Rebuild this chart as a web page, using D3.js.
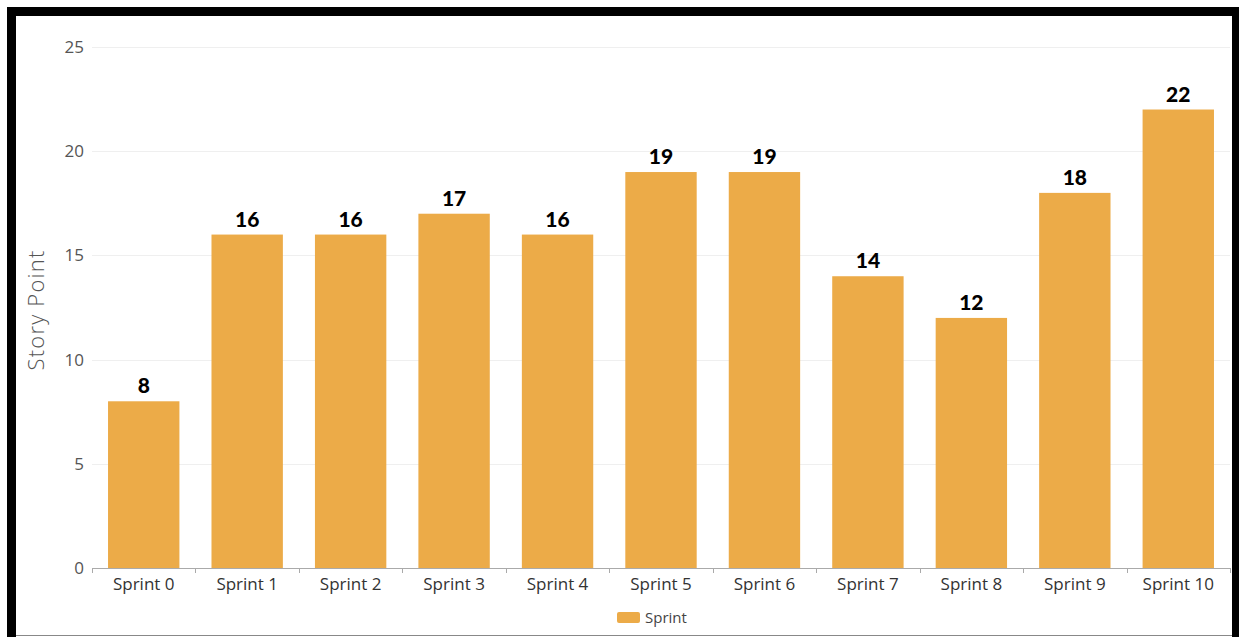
<!DOCTYPE html>
<html><head><meta charset="utf-8">
<script src="https://cdn.jsdelivr.net/npm/d3@7"></script>
<style>body{margin:0;background:#fff;}svg{display:block;}</style>
</head><body>
<svg id="c" width="1239" height="637"></svg>
<script>
const categories = ["Sprint 0","Sprint 1","Sprint 2","Sprint 3","Sprint 4","Sprint 5","Sprint 6","Sprint 7","Sprint 8","Sprint 9","Sprint 10"];
const values = [8,16,16,17,16,19,19,14,12,18,22];
const yTicks = [0,5,10,15,20,25];
const seriesName = "Sprint";
const yTitle = "Story Point";

(function(){
const svg = d3.select("#c");
const color = "#ECAB48";
const mLeft = 92, mRight = 1230, mTop = 47, mBottom = 568;

const x = d3.scaleBand().domain(categories).range([mLeft, mRight]).paddingInner(0.31).paddingOuter(0.155);
const y = d3.scaleLinear().domain([0, 25]).range([mBottom, mTop]);

svg.append("rect").attr("x",0).attr("y",0).attr("width",1239).attr("height",637).attr("fill","#fff");
svg.append("line").attr("x1",16).attr("x2",1232).attr("y1",635.5).attr("y2",635.5).attr("stroke","#888").attr("stroke-width",1);

// grid
svg.append("g").selectAll("line").data(yTicks.filter(d=>d>0)).join("line")
  .attr("x1", mLeft).attr("x2", mRight)
  .attr("y1", d=>Math.round(y(d))+0.5).attr("y2", d=>Math.round(y(d))+0.5)
  .attr("stroke","#efefef").attr("stroke-width",1);

// y labels
svg.append("g").selectAll("text").data(yTicks).join("text")
  .attr("x", 84).attr("y", d=>y(d)+6)
  .attr("text-anchor","end")
  .attr("font-family","'Open Sans', sans-serif").attr("font-size",17)
  .attr("fill","#555").text(d=>d);

// bars
svg.append("g").selectAll("rect").data(values).join("rect")
  .attr("x",(d,i)=>x(categories[i])).attr("width",x.bandwidth())
  .attr("y",d=>y(d)).attr("height",d=>y(0)-y(d))
  .attr("fill",color);

// x axis
const xAxis = d3.axisBottom(x).tickSize(0).tickPadding(6).tickFormat(d=>d);
const gx = svg.append("g").attr("transform",`translate(0,${mBottom})`).call(xAxis);
gx.select(".domain").attr("stroke","#aaa").attr("d",`M${mLeft},0.5H${mRight}`);
gx.selectAll("text").attr("font-family","'Open Sans', sans-serif").attr("font-size",17).attr("fill","#333").attr("dy","0.95em");
const bounds = categories.map(c=>x(c)-x.step()*x.paddingInner()/2).concat([mRight]);
svg.append("g").selectAll("line").data(bounds).join("line")
  .attr("x1",d=>Math.round(d)+0.5).attr("x2",d=>Math.round(d)+0.5)
  .attr("y1",mBottom).attr("y2",mBottom+5).attr("stroke","#aaa");

// value labels
svg.append("g").selectAll("text").data(values).join("text")
  .attr("x",(d,i)=>x(categories[i])+x.bandwidth()/2)
  .attr("y",d=>y(d)-8)
  .attr("text-anchor","middle")
  .attr("font-family","Lato, sans-serif").attr("font-weight",900).attr("font-size",21)
  .attr("fill","#000").text(d=>d);

// y title
svg.append("text").attr("transform",`translate(44,310) rotate(-90)`)
  .attr("text-anchor","middle").attr("font-family","'Open Sans', sans-serif").attr("font-weight",300)
  .attr("font-size",22).attr("fill","#555").attr("letter-spacing",1.2).text(yTitle);

// legend
const lg = svg.append("g");
lg.append("rect").attr("x",617).attr("y",612).attr("width",23).attr("height",11).attr("rx",2).attr("fill",color);
lg.append("text").attr("x",645).attr("y",623).attr("font-family","'Open Sans', sans-serif").attr("font-size",15).attr("fill","#444").text(seriesName);

// black border
svg.append("rect").attr("x",7).attr("y",7).attr("width",1232).attr("height",9).attr("fill","#000");
svg.append("rect").attr("x",7).attr("y",7).attr("width",9).attr("height",630).attr("fill","#000");
svg.append("rect").attr("x",1232).attr("y",7).attr("width",7).attr("height",630).attr("fill","#000");
})();
</script>
</body></html>
